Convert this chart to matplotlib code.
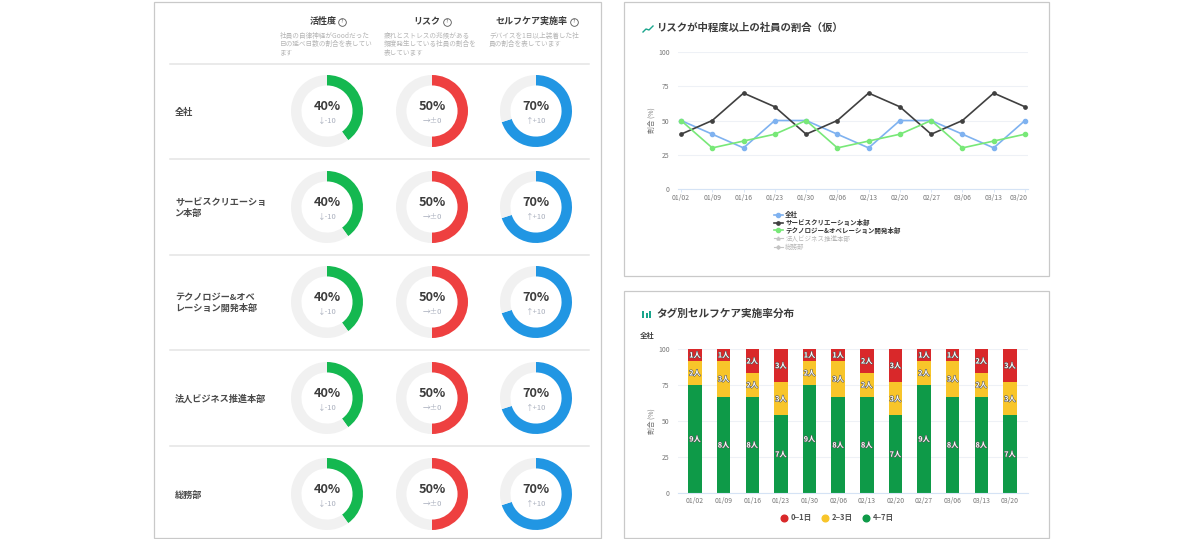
import matplotlib
matplotlib.use("Agg")
import matplotlib.pyplot as plt
import matplotlib.patheffects as pe
import matplotlib.transforms as mtrans
from matplotlib.patches import Rectangle

plt.rcParams['font.family'] = ['Noto Sans CJK JP', 'DejaVu Sans']

W, H = 1200, 539

departments = ['全社', 'サービスクリエーショ\nン本部', 'テクノロジー&オベ\nレーション開発本部',
               '法人ビジネス推進本部', '総務部']
metric_names = ['活性度', 'リスク', 'セルフケア実施率']
metric_desc = ['社員の自律神経がGoodだった\n日の延べ日数の割合を表してい\nます',
               '疲れとストレスの兆候がある\n頻度発生している社員の割合を\n表しています',
               'デバイスを1日以上装着した社\n員の割合を表しています']
metric_values = [40, 50, 70]
metric_delta = ['↓-10', '→±0', '↑+10']
metric_colors = ['#14b850', '#ee4040', '#2196e3']

dates = ['01/02', '01/09', '01/16', '01/23', '01/30', '02/06',
         '02/13', '02/20', '02/27', '03/06', '03/13', '03/20']
risk_all = [50, 40, 30, 50, 50, 40, 30, 50, 50, 40, 30, 50]
risk_service = [40, 50, 70, 60, 40, 50, 70, 60, 40, 50, 70, 60]
risk_tech = [50, 30, 35, 40, 50, 30, 35, 40, 50, 30, 35, 40]

count_low = [1, 1, 2, 3, 1, 1, 2, 3, 1, 1, 2, 3]
count_mid = [2, 3, 2, 3, 2, 3, 2, 3, 2, 3, 2, 3]
count_high = [9, 8, 8, 7, 9, 8, 8, 7, 9, 8, 8, 7]

DARK = '#3c3c3c'
GRAY = '#777777'


def px_axes(left, top, right, bottom, **kw):
    return fig.add_axes([left / W, 1 - bottom / H, (right - left) / W, (bottom - top) / H], **kw)


def style_axes(ax, ticklabels):
    ax.set_ylim(0, 100)
    ax.set_yticks([0, 25, 50, 75, 100])
    ax.set_xticks(range(12))
    ax.set_xticklabels(ticklabels)
    ax.grid(axis='y', color='#eef1f6', lw=0.8)
    ax.set_axisbelow(True)
    for s in ['top', 'right', 'left']:
        ax.spines[s].set_visible(False)
    ax.spines['bottom'].set_color('#d5e3f5')
    ax.tick_params(axis='y', length=0, labelsize=4.9, labelcolor=GRAY, pad=6)
    ax.tick_params(axis='x', length=2, width=0.6, color='#d5e3f5', labelsize=4.9,
                   labelcolor=GRAY, pad=1.5)
    ax.set_ylabel('割合 (%)', fontsize=4.9, color=GRAY, labelpad=1.5)


fig = plt.figure(figsize=(W / 100, H / 100), dpi=100, facecolor='white')

# page layer in pixel coordinates
page = fig.add_axes([0, 0, 1, 1])
page.set_xlim(0, W)
page.set_ylim(H, 0)
page.axis('off')

for x, y, w, h in [(153.5, 1.5, 447.5, 536.5), (624, 2, 425, 274), (624, 291, 425, 247)]:
    page.add_patch(Rectangle((x, y), w, h, fc='white', ec='#c9c9c9', lw=0.9))

# left table
col_x = [327, 432, 536]
row_y = [111, 207, 302, 398, 494]
desc_x = [280, 384, 489]
head_x = [323, 427, 532]
icon_x = [342, 447, 574]
for i, name in enumerate(metric_names):
    page.text(head_x[i], 21.5, name, fontsize=6.5, weight='bold', color=DARK, ha='center', va='center')
    page.plot(icon_x[i], 21.5, 'o', ms=5.5, mfc='white', mec='#555555', mew=0.6)
    page.text(icon_x[i], 21.5, '?', fontsize=3.6, color='#555555', ha='center', va='center')
    page.text(desc_x[i], 32, metric_desc[i], fontsize=4.8, color='#b5b5b5', ha='left', va='top',
              linespacing=1.02)

for y in [64, 159, 255, 350, 446]:
    page.plot([170, 589], [y, y], color='#e4e4e4', lw=1.1)

for r, dept in enumerate(departments):
    page.text(175, row_y[r] + 1, dept, fontsize=6.6, weight='bold', color='#4a4a4a', ha='left',
              va='center', linespacing=1.2)
    for c, val in enumerate(metric_values):
        ax = px_axes(col_x[c] - 36, row_y[r] - 36, col_x[c] + 36, row_y[r] + 36)
        ax.pie([val, 100 - val], colors=[metric_colors[c], '#f1f1f1'], startangle=90, counterclock=False,
               radius=1.0, wedgeprops=dict(width=0.29))
        ax.set_xlim(-1, 1)
        ax.set_ylim(-1, 1)
        ax.text(0, 0.12, f'{val}%', fontsize=9.2, weight='bold', color=DARK, ha='center', va='center')
        ax.text(0, -0.27, metric_delta[c], fontsize=5.5, color='#a9afbd', ha='center', va='center')

# line chart
page.text(657, 28, 'リスクが中程度以上の社員の割合（仮）', fontsize=7.5, weight='bold', color=DARK,
          ha='left', va='center')
page.plot([643, 646, 649, 653], [32, 29, 30, 26], color='#1aa58c', lw=1.0)

ax1 = px_axes(678, 52, 1028, 189)
ax1.plot(range(12), risk_all, '-o', color='#7fb2f0', lw=1.2, ms=3, label='全社')
ax1.plot(range(12), risk_service, '-o', color='#404040', lw=1.2, ms=2.4, label='サービスクリエーション本部')
ax1.plot(range(12), risk_tech, '-o', color='#78e878', lw=1.2, ms=3, label='テクノロジー&オベレーション開発本部')
ax1.plot([], [], '-^', color='#c4c4c4', lw=0.8, ms=2.2, label='法人ビジネス推進本部')
ax1.plot([], [], '-D', color='#c4c4c4', lw=0.8, ms=1.8, label='総務部')
ax1.set_xlim(-0.096, 11.096)
style_axes(ax1, dates)
last = ax1.get_xticklabels()[-1]
last.set_transform(last.get_transform() + mtrans.ScaledTranslation(-6 / 100, 0, fig.dpi_scale_trans))
leg = ax1.legend(loc='upper left', bbox_to_anchor=(773.5 / W, 1 - 211 / H), bbox_transform=fig.transFigure,
                 frameon=False, fontsize=4.7, labelspacing=0.12, handlelength=1.4, handletextpad=0.4,
                 borderpad=0, borderaxespad=0)
for t, col in zip(leg.get_texts(), ['#333333', '#333333', '#333333', '#b5b5b5', '#b5b5b5']):
    t.set_color(col)
    t.set_weight('bold' if col == '#333333' else 'normal')

# stacked bars
page.text(656, 314, 'タグ別セルフケア実施率分布', fontsize=7.7, weight='bold', color=DARK, ha='left', va='center')
for bx, bh in zip([642, 645.5, 649], [7, 5, 7]):
    page.add_patch(Rectangle((bx, 318 - bh), 2, bh, fc='#1aa58c', ec='none'))
page.text(640, 335, '全社', fontsize=5.3, weight='bold', color=DARK, ha='left', va='center')

ax2 = px_axes(678, 349, 1028, 493)
totals = [a + b + c for a, b, c in zip(count_low, count_mid, count_high)]
pct_high = [c / t * 100 for c, t in zip(count_high, totals)]
pct_mid = [c / t * 100 for c, t in zip(count_mid, totals)]
pct_low = [c / t * 100 for c, t in zip(count_low, totals)]
bottom_low = [a + b for a, b in zip(pct_high, pct_mid)]
b_high = ax2.bar(range(12), pct_high, width=0.47, color='#0e9a48', label='4−7日')
b_mid = ax2.bar(range(12), pct_mid, width=0.47, bottom=pct_high, color='#f8c52a', label='2−3日')
b_low = ax2.bar(range(12), pct_low, width=0.47, bottom=bottom_low, color='#d9282a', label='0−1日')
for bars, counts in [(b_high, count_high), (b_mid, count_mid), (b_low, count_low)]:
    for t in ax2.bar_label(bars, labels=[f'{c}人' for c in counts], label_type='center', fontsize=5.2,
                           weight='bold', color='white'):
        t.set_path_effects([pe.withStroke(linewidth=0.8, foreground='#555555')])
ax2.set_xlim(-0.594, 11.63)
style_axes(ax2, dates)
ax2.tick_params(axis='x', length=0, pad=3)

handles, labels = ax2.get_legend_handles_labels()
legend_items = [(labels[2], '#d9282a', 784), (labels[1], '#f8c52a', 825), (labels[0], '#0e9a48', 866)]
for label, col, x in legend_items:
    page.plot(x, 517.5, 'o', ms=4.8, color=col)
    page.text(x + 7, 517.5, label, fontsize=5.5, weight='bold', color='#555555', ha='left', va='center')

fig.savefig('out.png', dpi=100)
